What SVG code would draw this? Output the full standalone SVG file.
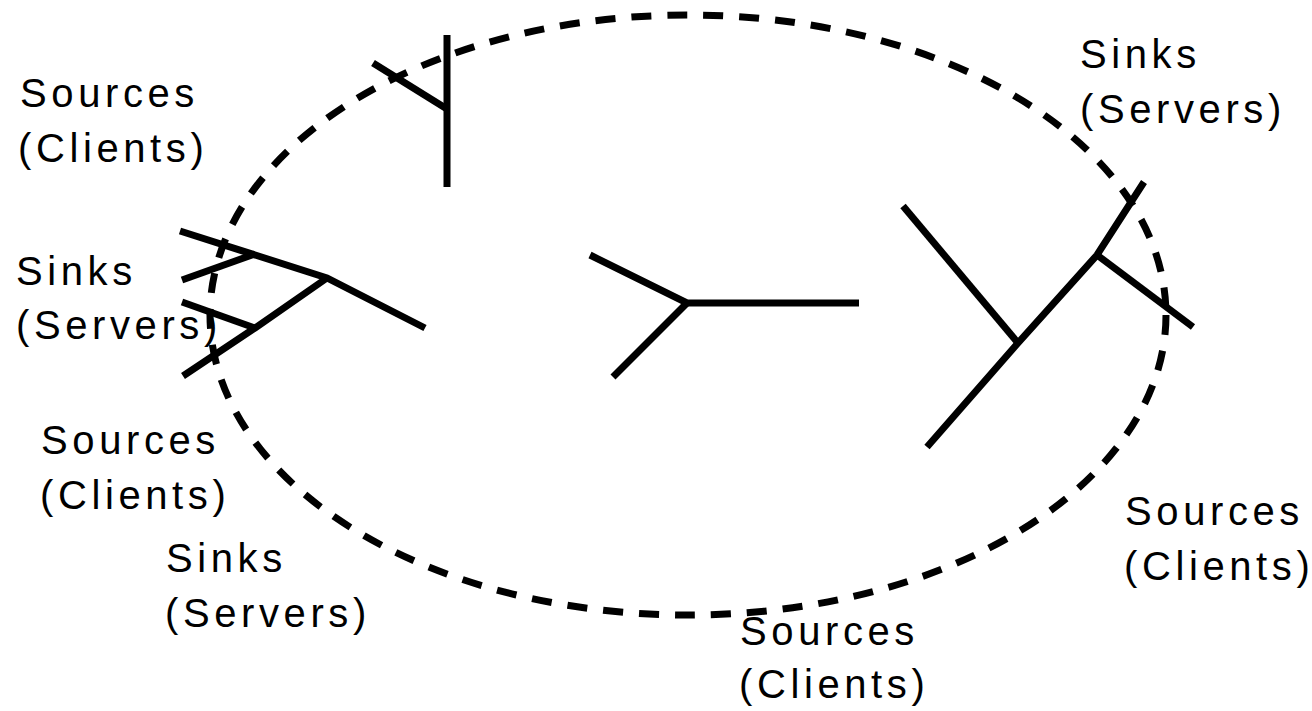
<svg xmlns="http://www.w3.org/2000/svg" width="1312" height="711" viewBox="0 0 1312 711">
  <style>
    .boundary { fill: none; stroke: #000; stroke-width: 7; stroke-dasharray: 20 16; }
    .tree { fill: none; stroke: #000; stroke-width: 7; stroke-linejoin: miter; stroke-linecap: butt; }
    .label { font-family: "Liberation Sans", Arial, sans-serif; font-size: 40px; letter-spacing: 4.6px; fill: #000; }
  </style>
  <rect width="1312" height="711" fill="#fff"/>

  <!-- dashed network boundary -->
  <ellipse class="boundary" cx="688" cy="315" rx="478" ry="300"/>

  <!-- multicast trees -->
  <g id="connectors">
    <g id="tree-top">
      <polyline class="tree" points="447,35 447,187"/>
      <polyline class="tree" points="373,63 447,109"/>
    </g>
    <g id="tree-left">
      <polyline class="tree" points="180,231 327,278 425,328"/>
      <polyline class="tree" points="182,280 255,254"/>
      <polyline class="tree" points="182,302 255,328"/>
      <polyline class="tree" points="183,376 255,328 327,278"/>
    </g>
    <g id="tree-center">
      <polyline class="tree" points="590,255 687,303 859,303"/>
      <polyline class="tree" points="613,377 687,303"/>
    </g>
    <g id="tree-right">
      <polyline class="tree" points="903,206 1018,343"/>
      <polyline class="tree" points="927,447 1018,343 1097,255 1144,182"/>
      <polyline class="tree" points="1097,255 1193,327"/>
    </g>
  </g>

  <!-- endpoint labels -->
  <g id="label-sources-top-left">
    <text class="label" x="20" y="107">Sources<tspan x="18" dy="55">(Clients)</tspan></text>
  </g>
  <g id="label-sinks-left">
    <text class="label" x="16" y="285">Sinks<tspan x="16" dy="54">(Servers)</tspan></text>
  </g>
  <g id="label-sources-lower-left">
    <text class="label" x="41" y="454">Sources<tspan x="40" dy="55">(Clients)</tspan></text>
  </g>
  <g id="label-sinks-bottom-left">
    <text class="label" x="166" y="572">Sinks<tspan x="165" dy="55">(Servers)</tspan></text>
  </g>
  <g id="label-sinks-top-right">
    <text class="label" x="1080" y="68">Sinks<tspan x="1080" dy="55">(Servers)</tspan></text>
  </g>
  <g id="label-sources-right">
    <text class="label" x="1125" y="525">Sources<tspan x="1124" dy="55">(Clients)</tspan></text>
  </g>
  <g id="label-sources-bottom">
    <text class="label" x="740" y="645">Sources<tspan x="739" dy="53">(Clients)</tspan></text>
  </g>
</svg>
